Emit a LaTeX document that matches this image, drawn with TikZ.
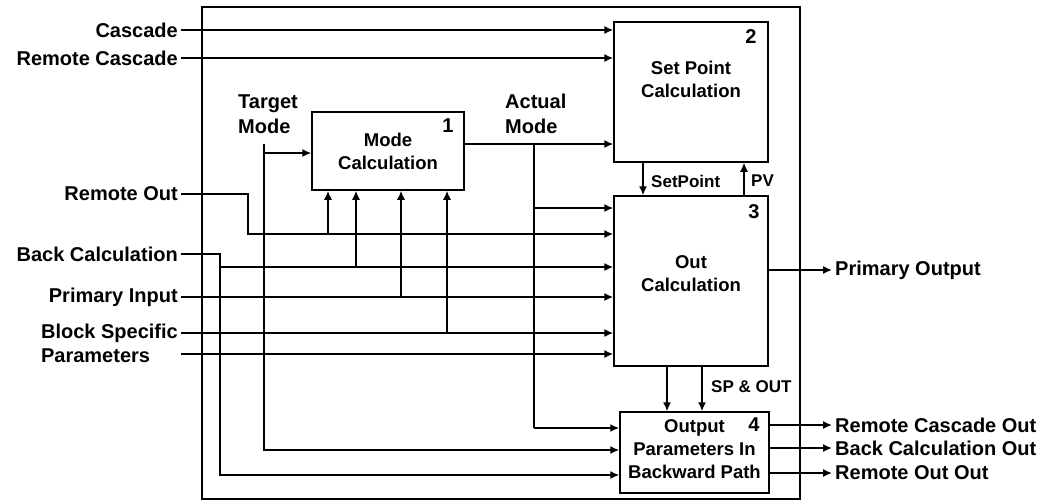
\documentclass[tikz,border=0pt]{standalone}
\usepackage{fontspec}
\setmainfont{Liberation Sans}
\usepackage{tikz}
\usetikzlibrary{arrows.meta,positioning}

\begin{document}
\begin{tikzpicture}[
    x=1pt, y=-1pt,
    block/.style={rectangle, draw=black, line width=1.5pt, inner sep=0pt},
    blocktext/.style={font=\bfseries\fontsize{18.5}{23}\selectfont, align=center, inner sep=0pt},
    num/.style={font=\bfseries\fontsize{20}{22}\selectfont, inner sep=0pt, anchor=north east},
    lbl/.style={font=\bfseries\fontsize{20}{25}\selectfont, inner sep=3pt},
    small/.style={font=\bfseries\fontsize{17}{20}\selectfont, inner sep=0pt, anchor=west},
    arrow/.style={line width=1.5pt, -{Latex[length=9pt,width=8pt]}},
    line/.style={line width=1.5pt}
]
\useasboundingbox (0,0) rectangle (1056,501);

% Frame
\draw[line width=1.3pt] (202,7) rectangle (800,499);

% Nodes
\node[block, minimum width=152pt, minimum height=78pt] (mode) at (388,151) {};
\node[blocktext] (mode-txt) at (mode.center) {Mode\\Calculation};
\node[num, xshift=-11pt, yshift=-7pt] (mode-num) at (mode.north east) {1};

\node[block, minimum width=154pt, minimum height=140pt] (setpt) at (691,92) {};
\node[blocktext, yshift=13pt] (setpt-txt) at (setpt.center) {Set Point\\Calculation};
\node[num, xshift=-12pt, yshift=-8pt] (setpt-num) at (setpt.north east) {2};

\node[block, minimum width=154pt, minimum height=170pt] (outcalc) at (691,281) {};
\node[blocktext, yshift=7pt] (outcalc-txt) at (outcalc.center) {Out\\Calculation};
\node[num, xshift=-9pt, yshift=-9pt] (outcalc-num) at (outcalc.north east) {3};

\node[block, minimum width=149pt, minimum height=81pt] (outpar) at (694.5,452.5) {};
\node[blocktext, yshift=3pt] (outpar-txt) at (outpar.center) {Output\\Parameters In\\Backward Path};
\node[num, xshift=-10pt, yshift=-6pt] (outpar-num) at (outpar.north east) {4};

% Inputs
\node[lbl, anchor=east] (casc) at (181,30) {Cascade};
\node[lbl, anchor=east] (rcasc) at (181,58) {Remote Cascade};
\node[lbl, anchor=east] (rout) at (181,194) {Remote Out};
\node[lbl, anchor=east] (bcalc) at (181,254) {Back Calculation};
\node[lbl, anchor=east] (pin) at (181,297) {Primary Input};
\node[lbl, anchor=east] (bsp) at (181,333) {Block Specific};
\node[lbl, anchor=west] (bsp2) at (bsp.west |- 0,356) {Parameters};
\node[lbl, align=left, anchor=south west] (tmode) at (235,137) {Target\\Mode};
\node[lbl, align=left, anchor=south west] (amode) at (502,137) {Actual\\Mode};

% Outputs
\node[lbl, anchor=west] (pout) at (832,270) {Primary Output};
\node[lbl, anchor=west] (rcout) at (832,425) {Remote Cascade Out};
\node[lbl, anchor=west] (bcout) at (832,448) {Back Calculation Out};
\node[lbl, anchor=west] (roout) at (832,473) {Remote Out Out};

% Small labels
\node[small] (sp) at (651,181) {SetPoint};
\node[small] (pv) at (751,181) {PV};
\node[small] (spout) at (711,387) {SP \& OUT};

% Junctions
\coordinate (tm) at (264,144);
\coordinate (am) at (534,144);
\coordinate (amb) at (534,428);

% Arrows
\draw[arrow] (casc.east) -- (casc.east -| setpt.west);
\draw[arrow] (rcasc.east) -- (rcasc.east -| setpt.west);
\draw[arrow] (mode.east |- am) -- (setpt.west |- am);
\draw[line] (am) -- (amb);
\draw[arrow] (am |- 0,208) -- (outcalc.west |- 0,208);
\draw[arrow, line width=2.6pt] (amb) -- (outpar.west |- amb);
\draw[arrow] (tm) |- (outpar.west |- 0,450);
\draw[arrow] (tm |- 0,153) -- (mode.west |- 0,153);

\draw[arrow] (setpt.south -| 643,0) -- (outcalc.north -| 643,0);
\draw[arrow] (outcalc.north -| 744,0) -- (setpt.south -| 744,0);

\draw[arrow] (rout.east) -| (248,234) -- (outcalc.west |- 0,234);
\draw[arrow] (328,234) -- (mode.south -| 328,0);
\draw[arrow] (bcalc.east) -| (220,475) -- (outpar.west |- 0,475);
\draw[arrow] (220,267) -- (outcalc.west |- 0,267);
\draw[arrow] (356,267) -- (mode.south -| 356,0);
\draw[arrow] (pin.east) -- (pin.east -| outcalc.west);
\draw[arrow] (401,297) -- (mode.south -| 401,0);
\draw[arrow] (bsp.east) -- (bsp.east -| outcalc.west);
\draw[arrow] (447,333) -- (mode.south -| 447,0);
\draw[arrow] (bsp.east |- 0,354) -- (outcalc.west |- 0,354);

\draw[arrow] (outcalc.south -| 667,0) -- (outpar.north -| 667,0);
\draw[arrow] (outcalc.south -| 702,0) -- (outpar.north -| 702,0);

\draw[arrow] (outcalc.east |- pout.west) -- (pout.west);
\draw[arrow] (outpar.east |- rcout.west) -- (rcout.west);
\draw[arrow] (outpar.east |- bcout.west) -- (bcout.west);
\draw[arrow] (outpar.east |- roout.west) -- (roout.west);

\end{tikzpicture}
\end{document}
